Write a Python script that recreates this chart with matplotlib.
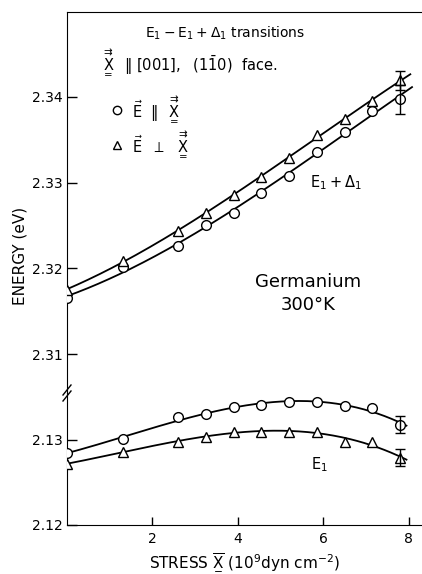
import matplotlib
matplotlib.use("Agg")
import matplotlib.pyplot as plt
import numpy as np
from matplotlib.lines import Line2D

plt.rcParams["font.family"] = ["DejaVu Sans"]
plt.rcParams["mathtext.fontset"] = "dejavusans"

# Stress values (10^9 dyn cm^-2)
stress = [0.0, 1.3, 2.6, 3.25, 3.9, 4.55, 5.2, 5.85, 6.5, 7.15, 7.8]

# E1 + Delta1 transition energies (eV)
e1d1_par = [2.3165, 2.3201, 2.3226, 2.3251, 2.3265, 2.3288, 2.3308, 2.3336, 2.3359, 2.3384, 2.3397]
e1d1_perp = [2.3175, 2.3209, 2.3243, 2.3265, 2.3285, 2.3307, 2.3329, 2.3356, 2.3374, 2.3395, 2.3419]

# E1 transition energies (eV)
e1_par = [2.1285, 2.1301, 2.1327, 2.1330, 2.1339, 2.1341, 2.1345, 2.1345, 2.1340, 2.1338, 2.1318]
e1_perp = [2.1272, 2.1286, 2.1298, 2.1304, 2.1310, 2.1310, 2.1310, 2.1310, 2.1298, 2.1298, 2.1279]

# Uncertainty of the highest-stress measurement of each series
err_e1d1_par = 0.0017
err_e1d1_perp = 0.0011
err_e1_par = 0.0010
err_e1_perp = 0.0010

upper_ticks = [2.31, 2.32, 2.33, 2.34]
lower_ticks = [2.12, 2.13]
x_ticks = [2, 4, 6, 8]

W, H = 422, 574
fig = plt.figure(figsize=(W / 100, H / 100), dpi=100)

left_px, top_px, break_px, bottom_px = 67, 12, 393, 525
ax_up = fig.add_axes([left_px / W, 1 - break_px / H, 1 - left_px / W, (break_px - top_px) / H])
ax_lo = fig.add_axes([left_px / W, 1 - bottom_px / H, 1 - left_px / W, (bottom_px - break_px) / H],
                     sharex=ax_up)

xmax = (W - left_px) / 42.7
ax_up.set_xlim(0, xmax)
ax_up.set_ylim(2.31 - 39 / 8600, 2.34 + 85 / 8600)
ax_lo.set_ylim(2.12, 2.12 + 132 / 8500)

for ax in (ax_up, ax_lo):
    ax.spines["right"].set_visible(False)
    ax.patch.set_alpha(0)
    ax.tick_params(direction="in", length=7, width=1, labelsize=10, pad=3)
ax_up.spines["bottom"].set_visible(False)
ax_lo.spines["top"].set_visible(False)
ax_up.tick_params(axis="x", bottom=False, labelbottom=False)
ax_up.set_yticks(upper_ticks)
ax_up.set_yticklabels([f"{t:.2f}" for t in upper_ticks])
ax_lo.set_yticks(lower_ticks)
ax_lo.set_yticklabels([f"{t:.2f}" for t in lower_ticks])
ax_lo.set_xticks(x_ticks)
ax_lo.set_xticklabels([str(t) for t in x_ticks])
ax_lo.tick_params(axis="x", length=6, pad=5)

mk = dict(markerfacecolor="white", markeredgecolor="black", markeredgewidth=1.0,
          markersize=7, linestyle="none", zorder=3)


def draw_series(ax, values, err, marker, x_end):
    coeffs = np.polyfit(stress, values, 3)
    xs = np.linspace(0, x_end, 200)
    ax.plot(xs, np.polyval(coeffs, xs), color="black", lw=1.3, zorder=2)
    ax.plot(stress, values, marker=marker, **mk)
    ax.errorbar(stress[-1], values[-1], yerr=err, fmt="none", ecolor="black",
                elinewidth=1, capsize=3.5, capthick=1, zorder=4)


draw_series(ax_up, e1d1_par, err_e1d1_par, "o", 8.08)
draw_series(ax_up, e1d1_perp, err_e1d1_perp, "^", 8.04)
draw_series(ax_lo, e1_par, err_e1_par, "o", 7.95)
draw_series(ax_lo, e1_perp, err_e1_perp, "^", 7.95)

# Axis break marks on the energy axis
for dy in (-3, 3):
    y0 = 1 - (break_px + dy) / H
    fig.add_artist(Line2D([(left_px - 4) / W, (left_px + 4) / W],
                          [y0 - 5 / H, y0 + 5 / H], color="black", lw=1))


def up(px, py):
    return ((px - left_px) / (W - left_px), (break_px - py) / (break_px - top_px))


X_SYM = r"\underset{=}{\overset{\rightrightarrows}{\mathrm{X}}}"

ax_up.text(*up(225, 33), r"$\mathrm{E_1 - E_1 + \Delta_1}$ transitions",
           transform=ax_up.transAxes, ha="center", va="center", fontsize=10)
ax_up.text(*up(102, 62),
           r"$" + X_SYM + r"\ \ \Vert\ [001],\ \ (1\bar{1}0)$  face.",
           transform=ax_up.transAxes, ha="left", va="center", fontsize=10.5)

handles = [Line2D([], [], marker="o", markerfacecolor="white", markeredgecolor="black",
                  markersize=6, linestyle="none"),
           Line2D([], [], marker="^", markerfacecolor="white", markeredgecolor="black",
                  markersize=6, linestyle="none")]
labels = [r"$\vec{\mathrm{E}}\ \ \Vert\ \ " + X_SYM + r"$",
          r"$\vec{\mathrm{E}}\ \ \perp\ \ " + X_SYM + r"$"]
ax_up.legend(handles, labels, loc="upper left", bbox_to_anchor=up(110, 93),
             frameon=False, handlelength=1.0, handletextpad=0.5, labelspacing=0.3,
             borderpad=0, borderaxespad=0, fontsize=10.5)

ax_up.text(*up(336, 183), r"$\mathrm{E_1 + \Delta_1}$", transform=ax_up.transAxes,
           ha="center", va="center", fontsize=10.5)
ax_up.text(*up(308, 282), "Germanium", transform=ax_up.transAxes,
           ha="center", va="center", fontsize=13)
ax_up.text(*up(308, 305), "300°K", transform=ax_up.transAxes,
           ha="center", va="center", fontsize=13)

ax_lo.text((319 - left_px) / (W - left_px), (bottom_px - 465) / (bottom_px - break_px),
           r"$\mathrm{E_1}$", transform=ax_lo.transAxes, ha="center", va="center", fontsize=10.5)

fig.text(20 / W, 1 - 256 / H, "ENERGY (eV)", rotation=90, ha="center", va="center", fontsize=11)
fig.text(244 / W, 1 - 562 / H,
         r"STRESS $\underset{-}{\overline{\mathrm{X}}}$ ($\mathrm{10^9}$dyn cm$^{-2}$)",
         ha="center", va="center", fontsize=11)

fig.savefig("out.png", dpi=100)
